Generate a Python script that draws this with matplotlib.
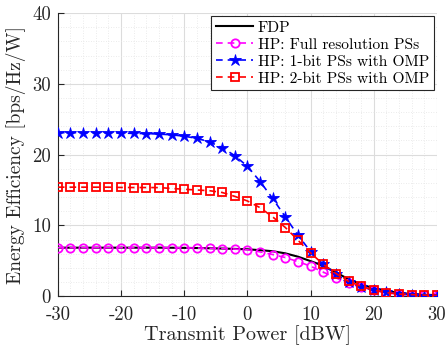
import numpy as np
import matplotlib
matplotlib.use("Agg")
import matplotlib.pyplot as plt
from matplotlib.ticker import MultipleLocator

plt.rcParams["font.family"] = ["cmr10", "DejaVu Serif"]
plt.rcParams["axes.unicode_minus"] = False
plt.rcParams["mathtext.fontset"] = "cm"

# Transmit power grid [dBW]
power_dbw = list(range(-30, 31, 2))

# Energy efficiency [bps/Hz/W]
ee_fdp = [6.85, 6.85, 6.85, 6.85, 6.85, 6.85, 6.85, 6.85, 6.85, 6.84, 6.82,
          6.80, 6.77, 6.73, 6.68, 6.62, 6.50, 6.35, 6.05, 5.58, 4.95,
          4.30, 3.35, 2.40, 1.68, 1.10, 0.75, 0.47, 0.30, 0.20, 0.15]
ee_full_res = [6.85, 6.85, 6.85, 6.85, 6.85, 6.85, 6.85, 6.85, 6.85, 6.84, 6.82,
               6.80, 6.76, 6.73, 6.65, 6.55, 6.26, 5.88, 5.46, 4.88, 4.24,
               3.40, 2.58, 1.80, 1.30, 0.85, 0.50, 0.30, 0.18, 0.10, 0.07]
ee_1bit = [23.1, 23.1, 23.1, 23.08, 23.06, 23.05, 23.0, 22.97, 22.9, 22.8, 22.6,
           22.3, 21.8, 21.0, 19.85, 18.35, 16.2, 13.8, 11.2, 8.6, 6.3,
           4.5, 3.1, 2.0, 1.3, 0.85, 0.52, 0.3, 0.18, 0.08, 0.06]
ee_2bit = [15.4, 15.4, 15.4, 15.4, 15.4, 15.36, 15.35, 15.35, 15.34, 15.22, 15.1,
           15.0, 14.9, 14.65, 14.1, 13.45, 12.5, 11.2, 9.7, 7.9, 6.1,
           4.5, 3.2, 2.1, 1.4, 0.85, 0.5, 0.3, 0.22, 0.15, 0.12]

x_ticks = [-30, -20, -10, 0, 10, 20, 30]
x_tick_labels = ["-30", "-20", "-10", "0", "10", "20", "30"]
y_ticks = [0, 10, 20, 30, 40]
y_tick_labels = ["0", "10", "20", "30", "40"]

text_color = "#262626"

fig = plt.figure(figsize=(4.45, 3.53), dpi=100)
ax = fig.add_axes([0.130, 0.161, 0.852, 0.802])

ax.plot(power_dbw, ee_fdp, color="black", lw=1.5, label="FDP", zorder=3)
ax.plot(power_dbw, ee_full_res, color="#FF00FF", lw=1.2, ls=(0, (4, 3)),
        marker="o", ms=6, mfc="none", mew=1.3,
        label="HP: Full resolution PSs", zorder=4)
ax.plot(power_dbw, ee_1bit, color="#0000FF", lw=1.2, ls=(0, (4, 3)),
        marker="*", ms=9, mfc="#0000FF", mew=0.6,
        label="HP: 1-bit PSs with OMP", zorder=4)
ax.plot(power_dbw, ee_2bit, color="#FF0000", lw=1.2, ls=(0, (4, 3)),
        marker="s", ms=5.5, mfc="none", mew=1.3,
        label="HP: 2-bit PSs with OMP", zorder=5)

ax.set_xlim(-30, 30)
ax.set_ylim(0, 40)
ax.set_xticks(x_ticks)
ax.set_xticklabels(x_tick_labels)
ax.set_yticks(y_ticks)
ax.set_yticklabels(y_tick_labels)
ax.xaxis.set_minor_locator(MultipleLocator(2))
ax.yaxis.set_minor_locator(MultipleLocator(2))

ax.grid(True, which="major", color="#DCDCDC", lw=0.8, zorder=0)
ax.grid(True, which="minor", color="#E4E4E4", lw=0.6, ls=(0, (1, 2)), zorder=0)
ax.set_axisbelow(True)

for side in ("top", "right"):
    ax.spines[side].set_visible(False)
for side in ("left", "bottom"):
    ax.spines[side].set_color(text_color)
    ax.spines[side].set_linewidth(0.8)

ax.tick_params(which="major", direction="in", length=4, width=0.8,
               colors=text_color, labelsize=13.5)
ax.tick_params(axis="x", which="major", pad=7)
ax.tick_params(axis="y", which="major", pad=5)
ax.tick_params(which="minor", direction="in", length=0)

ax.set_xlabel("Transmit Power [dBW]", fontsize=14.5, color=text_color, labelpad=1)
ax.set_ylabel("Energy Efficiency [bps/Hz/W]", fontsize=14, color=text_color,
              labelpad=4)

leg = ax.legend(loc="upper right", fontsize=11.2, frameon=True, fancybox=False,
                edgecolor="#262626", framealpha=1, borderpad=0.3,
                labelspacing=0.2, handlelength=2.4, handletextpad=0.3,
                borderaxespad=0.2)
leg.get_frame().set_linewidth(0.8)

fig.savefig("out.png", dpi=100)
